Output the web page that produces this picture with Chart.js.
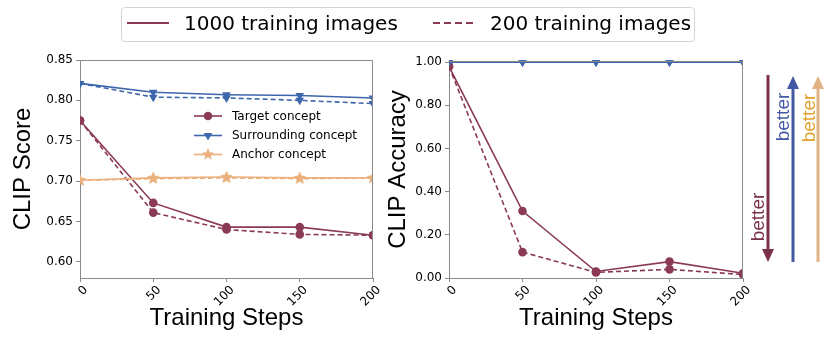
<!DOCTYPE html>
<html>
<head>
<meta charset="utf-8">
<script src="https://cdn.jsdelivr.net/npm/chart.js@4.4.1/dist/chart.umd.min.js"></script>
<style>
  body { margin: 0; width: 830px; height: 349px; background: #fff; position: relative; overflow: hidden; }
  .chartBox { position: absolute; top: 0; height: 349px; }
  #leftBox { left: 0; width: 385px; }
  #rightBox { left: 380px; width: 370px; }
  #legendTop { position: absolute; left: 121px; top: 7px; width: 574px; height: 35px; border: 1px solid #d4d4d4; border-radius: 4px; box-sizing: border-box; }
  .legText { position: absolute; top: 23px; transform: translateY(-50%); font-family: "DejaVu Sans", sans-serif; font-size: 20px; line-height: 1; color: #000; white-space: nowrap; }
  .better { position: absolute; transform: translate(-50%, -50%) rotate(-90deg); font-family: "Liberation Sans", Arial, sans-serif; font-size: 19px; line-height: 1; white-space: nowrap; }
  svg { position: absolute; left: 0; top: 0; }
</style>
</head>
<body>
<div id="leftBox" class="chartBox"><canvas id="scoreChart"></canvas></div>
<div id="rightBox" class="chartBox"><canvas id="accChart"></canvas></div>

<div id="legendTop"></div>
<svg width="830" height="349">
  <line x1="127" y1="23" x2="169" y2="23" stroke="#8b3a55" stroke-width="1.8"/>
  <line x1="433" y1="23" x2="473" y2="23" stroke="#8b3a55" stroke-width="1.8" stroke-dasharray="7 4"/>
  <!-- better arrows -->
  <line x1="768" y1="75" x2="768" y2="250" stroke="#7a3148" stroke-width="3"/>
  <polygon points="762,249 774,249 768,262" fill="#7a3148"/>
  <line x1="793" y1="88" x2="793" y2="262" stroke="#4359a3" stroke-width="3"/>
  <polygon points="787,89 799,89 793,76" fill="#4359a3"/>
  <line x1="818" y1="88" x2="818" y2="262" stroke="#e2b287" stroke-width="3"/>
  <polygon points="812,89 824,89 818,76" fill="#e2b287"/>
</svg>
<div class="legText" style="left:184px">1000 training images</div>
<div class="legText" style="left:490px">200 training images</div>
<div class="better" style="left:757px; top:217px; color:#7a3148">better</div>
<div class="better" style="left:782px; top:117px; color:#4359a3">better</div>
<div class="better" style="left:808px; top:118px; color:#e0a22c">better</div>

<script>
// data
const steps = [0, 50, 100, 150, 200];
const scoreTarget1000 = [0.775, 0.673, 0.643, 0.643, 0.633];
const scoreTarget200 = [0.775, 0.661, 0.640, 0.634, 0.633];
const scoreSurround1000 = [0.821, 0.810, 0.807, 0.806, 0.803];
const scoreSurround200 = [0.821, 0.804, 0.803, 0.800, 0.796];
const scoreAnchor1000 = [0.701, 0.704, 0.705, 0.704, 0.704];
const scoreAnchor200 = [0.701, 0.703, 0.704, 0.703, 0.704];
const accTarget1000 = [0.98, 0.31, 0.03, 0.076, 0.022];
const accTarget200 = [0.98, 0.12, 0.026, 0.04, 0.016];
const accSurround1000 = [1.0, 1.0, 1.0, 1.0, 1.0];
const accSurround200 = [1.0, 1.0, 1.0, 1.0, 1.0];
const scoreTicks = [0.60, 0.65, 0.70, 0.75, 0.80, 0.85];
const accTicks = [0.0, 0.2, 0.4, 0.6, 0.8, 1.0];
const conceptNames = ["Target concept", "Surrounding concept", "Anchor concept"];

const RED = "#8b3a55";
const BLUE = "#3d66ab";
const TAN = "#ebb07c";
const SPINE = "#8a8a8a";

// five point star used as marker for the anchor concept
function makeStar(color) {
  const c = document.createElement("canvas");
  c.width = 14; c.height = 14;
  const ctx = c.getContext("2d");
  ctx.fillStyle = color;
  ctx.beginPath();
  for (let i = 0; i < 10; i++) {
    const r = i % 2 === 0 ? 6.5 : 2.8;
    const a = -Math.PI / 2 + i * Math.PI / 5;
    ctx.lineTo(7 + r * Math.cos(a), 7 + r * Math.sin(a));
  }
  ctx.closePath();
  ctx.fill();
  return c;
}
const starMarker = makeStar(TAN);

function series(values, color, dashed, style, rot) {
  return {
    data: steps.map((x, i) => ({ x: x, y: values[i] })),
    borderColor: color,
    backgroundColor: color,
    borderWidth: 1.6,
    borderDash: dashed ? [5, 3] : [],
    pointStyle: style,
    pointRotation: rot || 0,
    pointRadius: style === "triangle" ? 5 : 4.3,
    pointBorderWidth: 0,
    tension: 0,
    clip: { left: 0, right: 0, bottom: 0, top: 1 }
  };
}

// top + right spines like matplotlib
const frameBox = {
  id: "frameBox",
  afterDraw(chart) {
    const a = chart.chartArea;
    const ctx = chart.ctx;
    ctx.save();
    ctx.strokeStyle = SPINE;
    ctx.lineWidth = 1;
    ctx.beginPath();
    ctx.moveTo(Math.round(a.left) - 0.5, Math.round(a.top) + 0.5);
    ctx.lineTo(Math.round(a.right) - 0.5, Math.round(a.top) + 0.5);
    ctx.lineTo(Math.round(a.right) - 0.5, Math.round(a.bottom));
    ctx.stroke();
    ctx.restore();
  }
};

// legend inside the left plot
const innerLegend = {
  id: "innerLegend",
  afterDraw(chart) {
    const ctx = chart.ctx;
    const items = [
      { color: RED, style: "circle", rot: 0, y: 116 },
      { color: BLUE, style: "triangle", rot: 180, y: 135.5 },
      { color: TAN, style: starMarker, rot: 0, y: 154.5 }
    ];
    ctx.save();
    items.forEach((it, i) => {
      ctx.strokeStyle = it.color;
      ctx.fillStyle = it.color;
      ctx.lineWidth = 1.6;
      ctx.beginPath();
      ctx.moveTo(194, it.y);
      ctx.lineTo(222, it.y);
      ctx.stroke();
      if (Chart.helpers && Chart.helpers.drawPoint) {
        Chart.helpers.drawPoint(ctx, { pointStyle: it.style, rotation: it.rot, radius: it.style === "triangle" ? 5 : 4.3, borderWidth: 0 }, 208, it.y);
      }
      ctx.fillStyle = "#000";
      ctx.font = "12px 'DejaVu Sans'";
      ctx.textBaseline = "middle";
      ctx.textAlign = "left";
      ctx.fillText(conceptNames[i], 232, it.y + 0.5);
    });
    ctx.restore();
  }
};

function makeScales(yTicks, yMin, yMax, yTitle, yWidth, titlePad) {
  return {
    x: {
      type: "linear",
      min: 0,
      max: 200,
      afterBuildTicks: (s) => { s.ticks = steps.map((v) => ({ value: v })); },
      afterFit: (s) => { s.height = 71; s.paddingLeft = 0; s.paddingRight = 0; },
      ticks: {
        minRotation: 45, maxRotation: 45, autoSkip: false, color: "#000",
        font: { family: "DejaVu Sans", size: 12 }, padding: 1, labelOffset: 6
      },
      grid: { drawOnChartArea: false, tickLength: 4, color: SPINE },
      border: { color: SPINE, width: 1 },
      title: {
        display: true, text: "Training Steps", color: "#000",
        font: { family: "Liberation Sans", size: 24 }, padding: { top: 0, bottom: 16 }
      }
    },
    y: {
      min: yMin,
      max: yMax,
      afterBuildTicks: (s) => { s.ticks = yTicks.map((v) => ({ value: v })); },
      afterFit: (s) => { s.width = yWidth; s.paddingTop = 0; s.paddingBottom = 0; },
      ticks: {
        color: "#000", font: { family: "DejaVu Sans", size: 12 }, padding: 3,
        callback: (v) => Number(v).toFixed(2)
      },
      grid: { drawOnChartArea: false, tickLength: 4, color: SPINE },
      border: { color: SPINE, width: 1 },
      title: {
        display: true, text: yTitle, color: "#000",
        font: { family: "Liberation Sans", size: 24 }, padding: { top: titlePad, bottom: 0 }
      }
    }
  };
}

const commonOpts = {
  responsive: true,
  maintainAspectRatio: false,
  animation: false,
  devicePixelRatio: 1,
  plugins: { legend: { display: false }, tooltip: { enabled: false } }
};

new Chart(document.getElementById("scoreChart"), {
  type: "line",
  data: {
    datasets: [
      series(scoreAnchor1000, TAN, false, starMarker),
      series(scoreAnchor200, TAN, true, starMarker),
      series(scoreSurround1000, BLUE, false, "triangle", 180),
      series(scoreSurround200, BLUE, true, "triangle", 180),
      series(scoreTarget1000, RED, false, "circle"),
      series(scoreTarget200, RED, true, "circle")
    ]
  },
  options: Object.assign({}, commonOpts, {
    layout: { padding: { left: 0, top: 60, right: 12, bottom: 0 } },
    scales: makeScales(scoreTicks, 0.58, 0.85, "CLIP Score", 80, 9)
  }),
  plugins: [frameBox, innerLegend]
});

new Chart(document.getElementById("accChart"), {
  type: "line",
  data: {
    datasets: [
      series(accSurround1000, BLUE, false, "triangle", 180),
      series(accSurround200, BLUE, true, "triangle", 180),
      series(accTarget1000, RED, false, "circle"),
      series(accTarget200, RED, true, "circle")
    ]
  },
  options: Object.assign({}, commonOpts, {
    layout: { padding: { left: 0, top: 61, right: 7, bottom: 0 } },
    scales: makeScales(accTicks, 0, 1.005, "CLIP Accuracy", 69, 4)
  }),
  plugins: [frameBox]
});
</script>
</body>
</html>
